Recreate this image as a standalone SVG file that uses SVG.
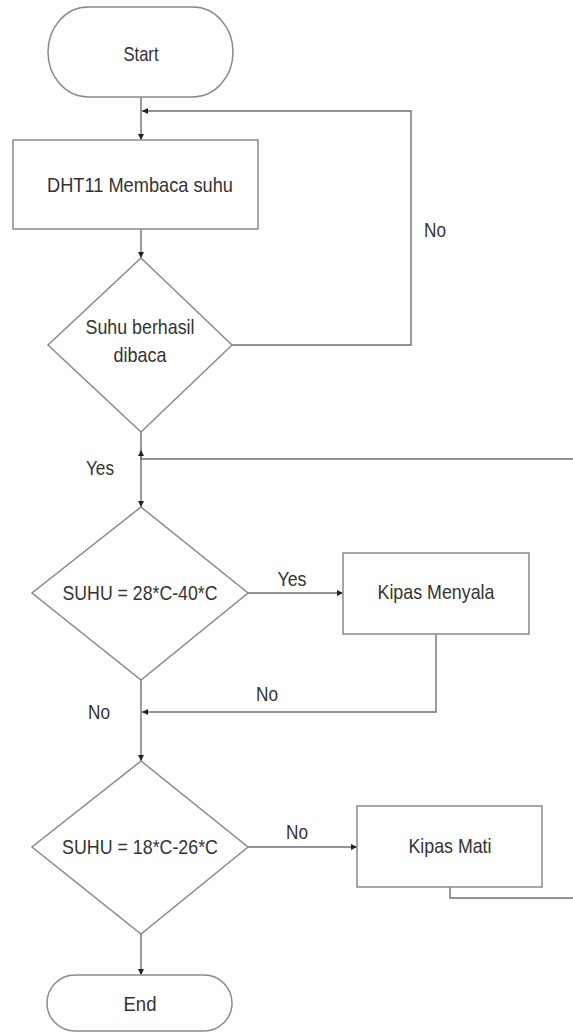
<svg xmlns="http://www.w3.org/2000/svg" width="573" height="1033" viewBox="0 0 573 1033">
  <style>
    .shape { fill: #ffffff; stroke: #8a8a8a; stroke-width: 1.5; }
    .conn { fill: none; stroke: #707070; stroke-width: 1.4; }
    .t { font-family: "Liberation Sans", Arial, sans-serif; font-size: 21px; fill: #333333; text-anchor: middle; }
  </style>
  <defs>
    <marker id="arrow" viewBox="0 0 10 10" refX="10" refY="5" markerWidth="6" markerHeight="6" markerUnits="userSpaceOnUse" orient="auto">
      <path d="M0,0 L10,5 L0,10 Z" fill="#222222"/>
    </marker>
  </defs>
  <rect width="573" height="1033" fill="#ffffff"/>

  <g id="connectors">
    <path class="conn" d="M141,97 V140" marker-end="url(#arrow)"/>
    <path class="conn" d="M232,345 H411 V111 H142" marker-end="url(#arrow)"/>
    <path class="conn" d="M141,229 V258" marker-end="url(#arrow)"/>
    <path class="conn" d="M141,432 V507" marker-end="url(#arrow)"/>
    <path class="conn" d="M573,459 H141 V450" marker-end="url(#arrow)"/>
    <path class="conn" d="M248,593 H343" marker-end="url(#arrow)"/>
    <path class="conn" d="M436,634 V712 H142" marker-end="url(#arrow)"/>
    <path class="conn" d="M141,680 V761" marker-end="url(#arrow)"/>
    <path class="conn" d="M248,847 H357" marker-end="url(#arrow)"/>
    <path class="conn" d="M450,887 V898 H573"/>
    <path class="conn" d="M141,934 V975" marker-end="url(#arrow)"/>
    <text class="t" x="435" y="237" textLength="22" lengthAdjust="spacingAndGlyphs">No</text>
    <text class="t" x="100" y="475" textLength="28" lengthAdjust="spacingAndGlyphs">Yes</text>
    <text class="t" x="292" y="586" textLength="29" lengthAdjust="spacingAndGlyphs">Yes</text>
    <text class="t" x="267" y="701" textLength="22" lengthAdjust="spacingAndGlyphs">No</text>
    <text class="t" x="99" y="719" textLength="22" lengthAdjust="spacingAndGlyphs">No</text>
    <text class="t" x="297" y="839" textLength="22" lengthAdjust="spacingAndGlyphs">No</text>
  </g>

  <g id="start">
    <rect class="shape" x="48" y="7" width="185" height="90" rx="40" ry="45"/>
    <text class="t" x="141" y="61" textLength="35" lengthAdjust="spacingAndGlyphs">Start</text>
  </g>

  <g id="read-sensor">
    <rect class="shape" x="13" y="140" width="245" height="89"/>
    <text class="t" x="140" y="192" textLength="186" lengthAdjust="spacingAndGlyphs">DHT11 Membaca suhu</text>
  </g>

  <g id="decision-read">
    <polygon class="shape" points="141,258 232,345 141,432 48,345"/>
    <text class="t" x="140" y="334" textLength="109" lengthAdjust="spacingAndGlyphs">Suhu berhasil</text>
    <text class="t" x="140" y="362" textLength="53" lengthAdjust="spacingAndGlyphs">dibaca</text>
  </g>

  <g id="decision-hot">
    <polygon class="shape" points="141,507 248,593 141,680 32,593"/>
    <text class="t" x="140" y="600" textLength="155" lengthAdjust="spacingAndGlyphs">SUHU = 28*C-40*C</text>
  </g>

  <g id="fan-on">
    <rect class="shape" x="343" y="553" width="186" height="81"/>
    <text class="t" x="436" y="599" textLength="117" lengthAdjust="spacingAndGlyphs">Kipas Menyala</text>
  </g>

  <g id="decision-cool">
    <polygon class="shape" points="141,761 248,847 141,934 32,847"/>
    <text class="t" x="140" y="854" textLength="156" lengthAdjust="spacingAndGlyphs">SUHU = 18*C-26*C</text>
  </g>

  <g id="fan-off">
    <rect class="shape" x="357" y="806" width="185" height="81"/>
    <text class="t" x="450" y="853" textLength="83" lengthAdjust="spacingAndGlyphs">Kipas Mati</text>
  </g>

  <g id="end">
    <rect class="shape" x="47" y="975" width="185" height="56" rx="28" ry="28"/>
    <text class="t" x="140" y="1011" textLength="33" lengthAdjust="spacingAndGlyphs">End</text>
  </g>
</svg>
